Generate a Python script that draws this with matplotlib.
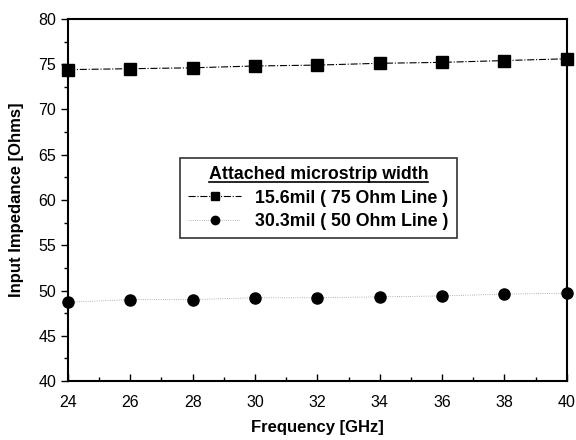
import matplotlib
matplotlib.use('Agg')
import matplotlib.pyplot as plt
from matplotlib.ticker import MultipleLocator
from matplotlib.lines import Line2D

plt.rcParams['font.family'] = ['Liberation Sans', 'DejaVu Sans']

freq = [24, 26, 28, 30, 32, 34, 36, 38, 40]
z_75 = [74.4, 74.5, 74.6, 74.8, 74.9, 75.1, 75.2, 75.4, 75.6]
z_50 = [48.7, 49.0, 49.0, 49.2, 49.2, 49.3, 49.4, 49.6, 49.7]

fig = plt.figure(figsize=(5.76, 4.4), dpi=100)
ax = fig.add_axes([0.118, 0.134, 0.866, 0.823])

ax.plot(freq, z_75, color='black', marker='s', markersize=8.5, linestyle='-.',
        linewidth=0.8, label='15.6mil ( 75 Ohm Line )', clip_on=False)
ax.plot(freq, z_50, color='#999999', marker='o', markersize=8, linestyle=':',
        linewidth=0.6, markerfacecolor='black', markeredgecolor='black',
        label='30.3mil ( 50 Ohm Line )', clip_on=False)

ax.set_xlim(24, 40)
ax.set_ylim(40, 80)
ax.xaxis.set_major_locator(MultipleLocator(2))
ax.xaxis.set_minor_locator(MultipleLocator(1))
ax.yaxis.set_major_locator(MultipleLocator(5))
ax.yaxis.set_minor_locator(MultipleLocator(2.5))
ax.tick_params(axis='y', which='major', direction='out', length=5, width=1, labelsize=11.5)
ax.tick_params(axis='y', which='minor', direction='out', length=3, width=1)
ax.tick_params(axis='x', which='major', direction='in', length=5, width=1,
               labelsize=11.5, pad=10)
ax.tick_params(axis='x', which='minor', direction='in', length=3, width=1)
for s in ax.spines.values():
    s.set_linewidth(1.5)

ax.set_xlabel('Frequency [GHz]', fontsize=12, fontweight='bold', labelpad=7)
ax.set_ylabel('Input Impedance [Ohms]', fontsize=12, fontweight='bold', labelpad=10)

leg = ax.legend(title='Attached microstrip width', loc='center',
                bbox_to_anchor=(0.502, 0.505), frameon=True, fancybox=False,
                edgecolor='black', prop={'weight': 'bold', 'size': 12.8},
                handlelength=3.0, markerscale=0.75, borderpad=0.45,
                labelspacing=0.35, handletextpad=0.8)
leg.get_frame().set_linewidth(1.2)
t = leg.get_title()
t.set_fontweight('bold')
t.set_fontsize(12.8)

# underline the legend title
fig.canvas.draw()
bb = t.get_window_extent().transformed(fig.transFigure.inverted())
y_ul = bb.y0 + 0.004
fig.add_artist(Line2D([bb.x0, bb.x1], [y_ul, y_ul], color='black',
                      linewidth=1.2, transform=fig.transFigure))

fig.savefig('out.png', dpi=100)
